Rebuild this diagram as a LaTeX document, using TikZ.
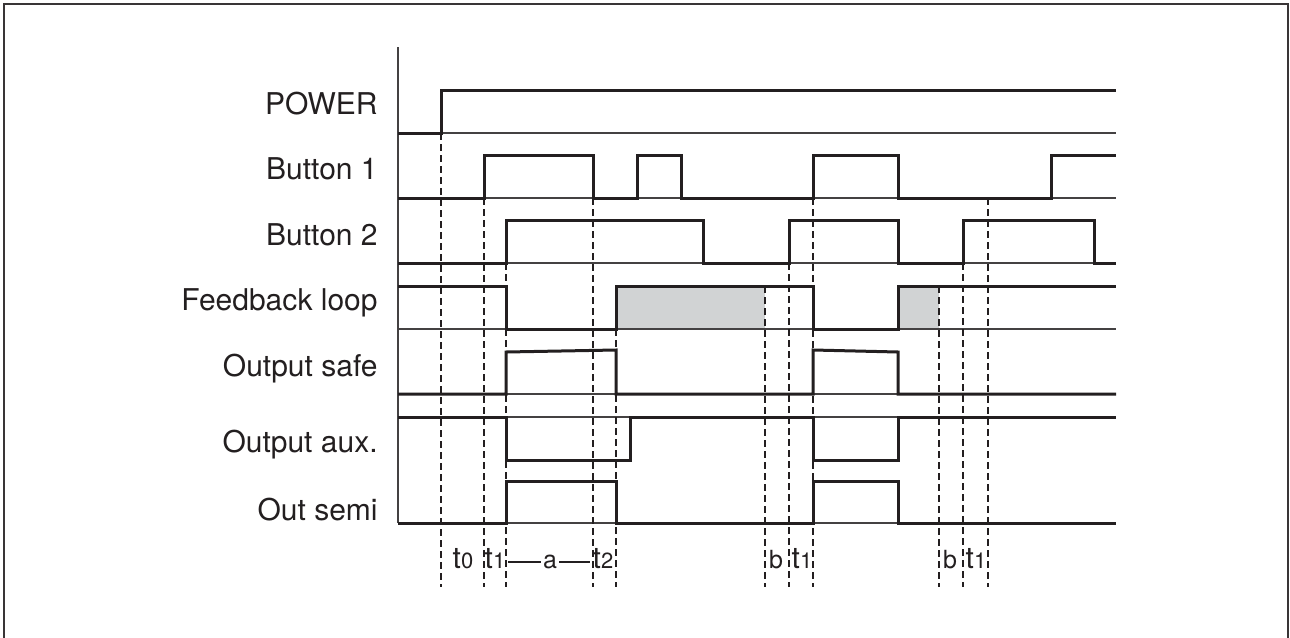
\documentclass[tikz,border=0pt]{standalone}
\usepackage{fontspec}
\setmainfont{TeX Gyre Heros}
\usepackage{xcolor}
\usepackage{tikz}
\usetikzlibrary{positioning}
\definecolor{ink}{RGB}{35,31,32}
\definecolor{fbgrey}{RGB}{209,211,212}

\begin{document}
\begin{tikzpicture}[x=0.5pt, y=-0.5pt,  % one unit = one pixel of the drawing
    sig/.style={ink, line width=1.5pt, line join=miter},
    ref/.style={ink!85, line width=0.6pt},
    guide/.style={ink, line width=0.6pt, dash pattern=on 3.5pt off 2pt},
    rowlabel/.style={anchor=base east, inner sep=0pt, text=ink, font=\fontsize{15}{18}\selectfont},
    tlabel/.style={anchor=base, inner sep=1pt, text=ink, font=\fontsize{15}{18}\selectfont},
    slabel/.style={inner sep=1pt, text=ink, font=\fontsize{12.5}{15}\selectfont}]
    \useasboundingbox (0,0) rectangle (1290,637);

    % Frame
    \draw[ink!90, line width=0.65pt] (4,645) -- (4,4) -- (1288,4) -- (1288,645);

    % Row labels
    \node[rowlabel] (power)   at (378,114) {POWER};
    \node[rowlabel] (btn1)    at (378,179) {Button 1};
    \node[rowlabel] (btn2)    at (378,245) {Button 2};
    \node[rowlabel] (fbloop)  at (378,310) {Feedback loop};
    \node[rowlabel] (outsafe) at (378,376) {Output safe};
    \node[rowlabel] (outaux)  at (378,452) {Output aux.};
    \node[rowlabel] (outsemi) at (378,520) {Out semi};

    % Grey windows
    \fill[fbgrey] (616,286) rectangle (765,329);
    \fill[fbgrey] (898,286) rectangle (939,329);

    % Axis and reference lines
    \draw[ref] (398,47) -- (398,523);
    \foreach \y in {133,198,263,329,394,417,523}
        \draw[ref] (398,\y) -- (1116,\y);

    % Time marks
    \foreach \x/\y in {441/133, 484/198, 506/263, 593/198, 616/329, 765/286,
                       789/263, 813/198, 939/286, 963/263, 988/198}
        \draw[guide] (\x,\y) -- (\x,587);

    % Signals
    \draw[sig] (398,133) -- (441,133) -- (441,90) -- (1116,90); % POWER
    \draw[sig] (398,198) -- (484,198) -- (484,155) -- (593,155) -- (593,198)
        -- (637,198) -- (637,155) -- (681,155) -- (681,198) -- (813,198)
        -- (813,155) -- (898,155) -- (898,198) -- (1051,198) -- (1051,155)
        -- (1116,155); % Button 1
    \draw[sig] (398,263) -- (506,263) -- (506,220) -- (703,220) -- (703,263)
        -- (789,263) -- (789,220) -- (898,220) -- (898,263) -- (963,263)
        -- (963,220) -- (1094,220) -- (1094,263) -- (1116,263); % Button 2
    \draw[sig] (398,286) -- (506,286) -- (506,329) -- (616,329) -- (616,286)
        -- (813,286) -- (813,329) -- (898,329) -- (898,286) -- (1116,286); % Feedback loop
    \draw[sig] (398,394) -- (506,394) -- (506,352) -- (616,350) -- (616,394)
        -- (813,394) -- (813,350) -- (898,352) -- (898,394) -- (1116,394); % Output safe
    \draw[sig] (398,417) -- (506,417) -- (506,460) -- (630,460) -- (630,417)
        -- (813,417) -- (813,460) -- (898,460) -- (898,417) -- (1116,417); % Output aux.
    \draw[sig] (398,523) -- (506,523) -- (506,481) -- (616,481) -- (616,523)
        -- (813,523) -- (813,481) -- (898,481) -- (898,523) -- (1116,523); % Out semi

    % Time labels
    \node[tlabel] (lt0)  at (463,568) {t{\fontsize{11}{13}\selectfont 0}};
    \node[tlabel] (lt1)  at (495,568) {t{\fontsize{11}{13}\selectfont 1}};
    \node[tlabel] (lt2)  at (603,568) {t{\fontsize{11}{13}\selectfont 2}};
    \node[tlabel] (lt1b) at (802,568) {t{\fontsize{11}{13}\selectfont 1}};
    \node[tlabel] (lt1c) at (976,568) {t{\fontsize{11}{13}\selectfont 1}};
    \node[slabel] (la)   at (550,562) {a};
    \node[slabel] (lb1)  at (776,560) {b};
    \node[slabel] (lb2)  at (950,560) {b};
    \draw[ink, line width=0.6pt] (la.west) -- (la.west -| lt1.east);
    \draw[ink, line width=0.6pt] (la.east) -- (la.east -| lt2.west);
\end{tikzpicture}
\end{document}
